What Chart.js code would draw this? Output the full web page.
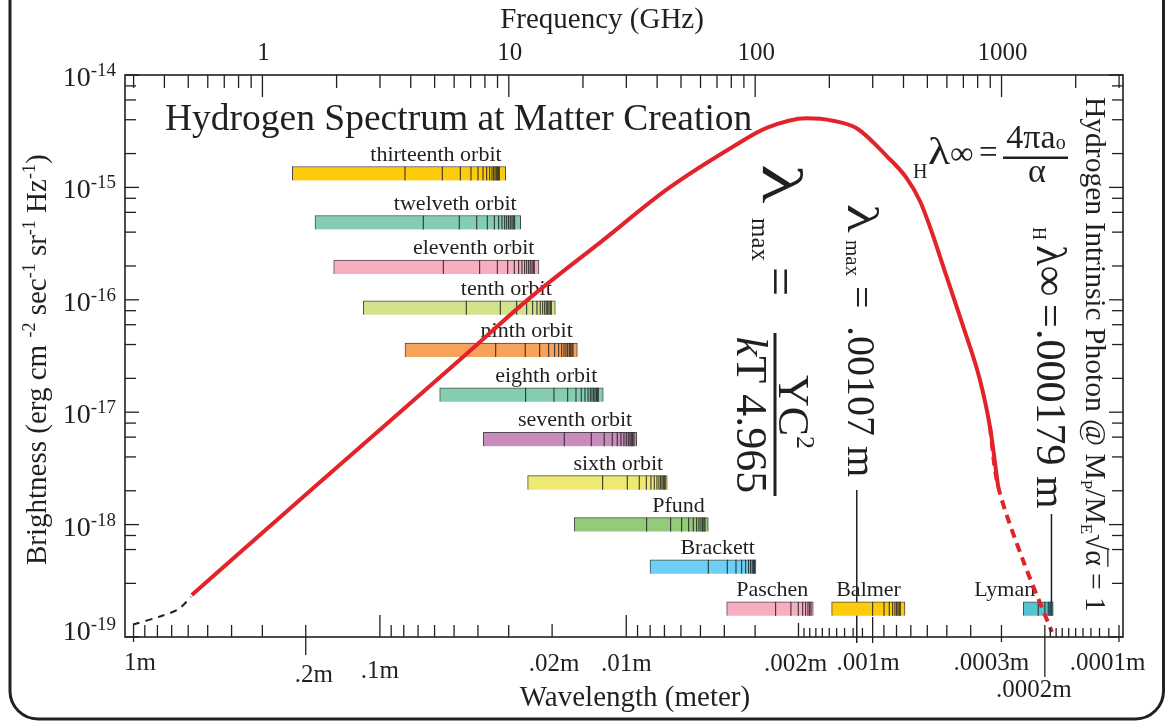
<!DOCTYPE html>
<html><head><meta charset="utf-8">
<script src="https://cdn.jsdelivr.net/npm/chart.js@4.4.1/dist/chart.umd.min.js"></script>
<style>html,body{margin:0;padding:0;background:#fff;overflow:hidden}canvas{display:block}</style>
</head><body>
<canvas id="c" width="1167" height="721"></canvas>
<script>
// ---------------- DATA ----------------
// Planck curve (solid red): wavelength (m) and brightness
const planckWavelength = [0.580, 0.1805, 0.0460, 0.0246, 0.01256, 0.00671, 0.00369, 0.002692, 0.001853, 0.001449, 0.001161, 0.000877, 0.0007278, 0.0006427, 0.0005854, 0.0005008, 0.0004288, 0.0003668, 0.0003342, 0.0003093];
const planckBrightness = [2.36e-19, 2.25e-18, 3.10e-17, 1.04e-16, 3.33e-16, 9.88e-16, 2.30e-15, 3.38e-15, 4.12e-15, 3.92e-15, 3.36e-15, 1.90e-15, 1.21e-15, 7.57e-16, 4.47e-16, 1.605e-16, 5.76e-17, 1.934e-17, 7.43e-18, 2.17e-18];
// Dashed red continuation (short wavelength tail)
const tailWavelength = [0.0003342, 0.0003093, 0.0002455, 0.0001872];
const tailBrightness = [7.43e-18, 2.17e-18, 4.84e-19, 1.108e-19];
// Dashed black continuation (long wavelength start)
const headWavelength = [1.005, 0.781, 0.660, 0.584];
const headBrightness = [1.29e-19, 1.522e-19, 1.757e-19, 2.27e-19];

// Hydrogen series bars
const seriesNames = ['thirteenth orbit','twelveth orbit','eleventh orbit','tenth orbit','ninth orbit','eighth orbit','seventh orbit','sixth orbit','Pfund','Brackett','Paschen','Balmer','Lyman'];
const seriesStart = [0.2267, 0.1834, 0.1540, 0.1168, 0.07909, 0.05719, 0.03805, 0.02514, 0.01626, 0.008013, 0.003912, 0.001467, 0.0002447];
const seriesEnd   = [0.03087, 0.02683, 0.02261, 0.01941, 0.01580, 0.01240, 0.009073, 0.006820, 0.004647, 0.002976, 0.001742, 0.0007394, 0.0001849];
const seriesRowBrightness = [1.329e-15, 4.87e-16, 1.957e-16, 8.49e-17, 3.576e-17, 1.428e-17, 5.74e-18, 2.36e-18, 1.0e-18, 4.22e-19, 1.78e-19, 1.78e-19, 1.78e-19];
const seriesLines = [
  [0.0791,0.05581,0.04717,0.04269,0.03997,0.03815,0.03686,0.03584,0.03508,0.03453,0.03411,0.03370,0.03338,0.03307,0.03276],
  [0.06666,0.04762,0.04046,0.03665,0.03433,0.03295,0.03195,0.03116,0.03058,0.03002,0.02957,0.02910,0.02875,0.02837],
  [0.05529,0.03936,0.03338,0.03030,0.02848,0.02734,0.02651,0.02585,0.02537,0.02490,0.02453,0.02414,0.02385,0.02363],
  [0.04460,0.03246,0.02785,0.02537,0.02398,0.02304,0.02234,0.02184,0.02144,0.02112,0.02084,0.02059,0.02034,0.02015],
  [0.03388,0.02571,0.02246,0.02065,0.01953,0.01881,0.01829,0.01790,0.01757,0.01729,0.01703,0.01681,0.01661,0.01645],
  [0.02561,0.01966,0.01729,0.01600,0.01523,0.01471,0.01430,0.01400,0.01378,0.01356,0.01340,0.01323,0.01311,0.01299],
  [0.01785,0.01387,0.01229,0.01140,0.01088,0.01051,0.01022,0.01000,0.009815,0.009661,0.009544,0.009419,0.009306],
  [0.01247,0.009906,0.008857,0.008294,0.007940,0.007699,0.007506,0.007367,0.007251,0.007163,0.007077,0.007012,0.006946],
  [0.008265,0.006604,0.005959,0.005580,0.005346,0.005179,0.005069,0.004975,0.004896,0.004838,0.004792],
  [0.004647,0.003890,0.003587,0.003401,0.003276,0.003186,0.003127,0.003081,0.003041,0.003013],
  [0.002476,0.002146,0.002004,0.001923,0.001870,0.001830,0.001801,0.001779],
  [0.001000,0.0008995,0.0008561,0.0008293,0.0008118,0.0007990,0.0007893,0.0007798,0.0007726],
  [0.0002128,0.0001999,0.0001938,0.0001908,0.0001890,0.0001873]
];

// Axis ticks
const wavelengthTickValues = [1, 0.2, 0.1, 0.02, 0.01, 0.002, 0.001, 0.0003, 0.0002, 0.0001];
const wavelengthTickLabels = ['1m', '.2m', '.1m', '.02m', '.01m', '.002m', '.001m', '.0003m', '.0002m', '.0001m'];
const wavelengthMinorTicks = [0.9,0.8,0.7,0.6,0.5,0.4,0.3,0.09,0.08,0.07,0.06,0.05,0.04,0.03,0.009,0.008,0.007,0.006,0.005,0.004,0.003,0.0009,0.0008,0.0007,0.0006,0.0005,0.0004];
const wavelengthFineTicks = [0.0019,0.0018,0.0017,0.0016,0.0015,0.0014,0.0013,0.0012,0.0011,0.00019,0.00018,0.00017,0.00016,0.00015,0.00014,0.00013,0.00012,0.00011];
const frequencyTickValues = [1, 10, 100, 1000];
const frequencyTickLabels = ['1', '10', '100', '1000'];
const frequencyMinorTicks = [0.3,0.4,0.5,0.6,0.7,0.8,0.9,2,3,4,5,6,7,8,9,20,30,40,50,60,70,80,90,200,300,400,500,600,700,800,900,2000,3000];
const brightnessTickValues = [1e-14, 1e-15, 1e-16, 1e-17, 1e-18, 1e-19];
const brightnessTickExponents = ['-14', '-15', '-16', '-17', '-18', '-19'];

// Annotation wavelengths
const lambdaMaxLine = 0.00116;
const lambdaInfLine = 0.000188;

const LIGHT_GHZ_M = 0.299792458;
const X_MIN = 9.634e-5, X_MAX = 1.083;

// ---------------- STYLE ----------------
const ink = '#231f20';
const RED = '#e3232a';
const seriesColors = ['#fdcb0b','#84cdb0','#f7aec0','#d3e38b','#f7a25a','#84cdb0','#c98bbe','#ede971','#94cb7a','#6dcff6','#f7aec0','#fdcb0b','#53c5d1'];
const labelInset = [4,4,4.5,3.5,4.5,6,4.5,4,3.5,1,5,4,18];
const SERIF = '"Liberation Serif", "Times New Roman", serif';

function setFont(ctx, size, style) { ctx.font = (style ? style + ' ' : '') + size + 'px ' + SERIF; }
function drawRich(ctx, x, y, parts, angle, align) {
  ctx.save(); ctx.translate(x, y); if (angle) ctx.rotate(angle);
  let total = 0;
  parts.forEach(p => { setFont(ctx, p.s, p.f); total += ctx.measureText(p.t).width * (p.sx || 1) + (p.gap || 0); });
  let cx = align === 'center' ? -total / 2 : (align === 'right' ? -total : 0);
  ctx.textAlign = 'left'; ctx.textBaseline = 'alphabetic'; ctx.fillStyle = ink; ctx.strokeStyle = ink;
  parts.forEach(p => {
    setFont(ctx, p.s, p.f);
    const w = ctx.measureText(p.t).width * (p.sx || 1);
    ctx.save(); ctx.translate(cx, p.dy || 0); ctx.scale(p.sx || 1, 1); ctx.fillText(p.t, 0, 0); ctx.restore();
    if (p.over) { ctx.lineWidth = 1.3; ctx.beginPath(); ctx.moveTo(cx - 1, -p.s * 0.74); ctx.lineTo(cx + w + 1, -p.s * 0.74); ctx.stroke(); }
    cx += w + (p.gap || 0);
  });
  ctx.restore();
  return total;
}
function vline(ctx, x, y1, y2) { ctx.beginPath(); ctx.moveTo(x, y1); ctx.lineTo(x, y2); ctx.stroke(); }
function hline(ctx, y, x1, x2) { ctx.beginPath(); ctx.moveTo(x1, y); ctx.lineTo(x2, y); ctx.stroke(); }

const R90 = Math.PI / 2;

const decorPlugin = {
  id: 'decor',
  beforeDraw(chart) {
    const ctx = chart.ctx;
    ctx.save();
    ctx.fillStyle = '#fff'; ctx.fillRect(0, 0, chart.width, chart.height);
    ctx.strokeStyle = ink; ctx.lineWidth = 3;
    const l = 10, r = 1163.5, b = 719, t = -40, rad = 28;
    ctx.beginPath(); ctx.moveTo(l, t); ctx.lineTo(l, b - rad); ctx.arcTo(l, b, l + rad, b, rad);
    ctx.lineTo(r - rad, b); ctx.arcTo(r, b, r, b - rad, rad); ctx.lineTo(r, t); ctx.stroke();
    ctx.restore();
  },
  beforeDatasetsDraw(chart) {
    const ctx = chart.ctx, xs = chart.scales.x, ys = chart.scales.y;
    ctx.save();
    ctx.fillStyle = ink; setFont(ctx, 22); ctx.textAlign = 'right'; ctx.textBaseline = 'alphabetic';
    seriesNames.forEach((n, i) => {
      const xe = xs.getPixelForValue(seriesEnd[i]);
      const yc = ys.getPixelForValue(seriesRowBrightness[i]);
      ctx.fillText(n, xe - labelInset[i], yc - 13);
    });
    ctx.strokeStyle = ink; ctx.lineWidth = 1.5;
    vline(ctx, xs.getPixelForValue(lambdaMaxLine), 490, 643);
    vline(ctx, xs.getPixelForValue(lambdaInfLine), 514, 603);
    ctx.restore();
  },
  afterDatasetsDraw(chart) {
    const ctx = chart.ctx, xs = chart.scales.x, xt = chart.scales.xTop, ys = chart.scales.y;
    const {left, right, top, bottom} = chart.chartArea;
    ctx.save();
    ctx.strokeStyle = ink; ctx.lineWidth = 1.6;
    ctx.strokeRect(left, top, right - left, bottom - top);
    ctx.lineWidth = 1.3;
    wavelengthMinorTicks.forEach(v => vline(ctx, xs.getPixelForValue(v), bottom, bottom - 12));
    wavelengthFineTicks.forEach(v => vline(ctx, xs.getPixelForValue(v), bottom, bottom - 9));
    const wlUp = [12, 12, 22, 13, 22, 14, 20, 12, 12, 12];
    const wlDown = [5, 18, 0, 0, 0, 0, 6, 5, 40, 5];
    const wlDx = [6.5, 8, 0, 2, 0, -3, -4.5, -10, -11, -11.5];
    const wlBase = [670, 682, 678, 671, 671, 671, 670, 670, 697, 670];
    ctx.fillStyle = ink; setFont(ctx, 25); ctx.textAlign = 'center'; ctx.textBaseline = 'alphabetic';
    wavelengthTickValues.forEach((v, i) => {
      const px = xs.getPixelForValue(v);
      vline(ctx, px, bottom + wlDown[i], bottom - wlUp[i]);
      ctx.fillText(wavelengthTickLabels[i], px + wlDx[i], wlBase[i]);
    });
    frequencyMinorTicks.forEach(v => vline(ctx, xt.getPixelForValue(v), top, top + 13));
    frequencyTickValues.forEach((v, i) => {
      const px = xt.getPixelForValue(v);
      vline(ctx, px, top, top + 22);
      ctx.fillText(frequencyTickLabels[i], px + 1, 60);
    });
    ys.ticks.forEach(t => {
      const v = t.value;
      const py = ys.getPixelForValue(v);
      const m = Math.round(v / Math.pow(10, Math.floor(Math.log10(v) + 1e-9)));
      const len = m === 1 ? 14 : 11;
      hline(ctx, py, left, left + len);
      hline(ctx, py, right, right - len);
    });
    brightnessTickValues.forEach((v, i) => {
      const py = ys.getPixelForValue(v);
      const base = i === brightnessTickValues.length - 1 ? py + 3 : py + 11;
      drawRich(ctx, 116, base, [{t: '10', s: 28}, {t: brightnessTickExponents[i], s: 19, dy: -10}], 0, 'right');
    });
    drawRich(ctx, 602, 28, [{t: 'Frequency (GHz)', s: 29}], 0, 'center');
    drawRich(ctx, 635, 706, [{t: 'Wavelength (meter)', s: 29}], 0, 'center');
    drawRich(ctx, 46, 565, [
      {t: 'Brightness (erg cm ', s: 29}, {t: '-2', s: 18, dy: -11},
      {t: ' sec', s: 29}, {t: '-1', s: 18, dy: -11},
      {t: ' sr', s: 29}, {t: '-1', s: 18, dy: -11},
      {t: ' Hz', s: 29}, {t: '-1', s: 18, dy: -11},
      {t: ')', s: 29}], -R90, 'left');
    drawRich(ctx, 165, 130, [{t: 'Hydrogen Spectrum at Matter Creation', s: 37.5}], 0, 'left');

    // Big Wien formula (rotated)
    drawRich(ctx, 763, 164, [{t: 'λ', s: 56, sx: 1.45}], R90);
    drawRich(ctx, 752, 218, [{t: 'max', s: 25}], R90);
    drawRich(ctx, 763, 267, [{t: '=', s: 52}], R90);
    ctx.fillStyle = ink; ctx.fillRect(773.5, 333, 3, 163);
    drawRich(ctx, 779, 412, [{t: 'YC', s: 44}, {t: '2', s: 26, dy: -18}], R90, 'center');
    drawRich(ctx, 737, 415, [{t: 'k', s: 44, f: 'italic'}, {t: 'T 4.965', s: 44}], R90, 'center');

    // lambda max value (rotated)
    drawRich(ctx, 848, 204, [{t: 'λ', s: 44, sx: 1.35}], R90);
    drawRich(ctx, 846, 240, [{t: 'max', s: 21}], R90);
    drawRich(ctx, 848, 286, [{t: '=', s: 40}], R90);
    drawRich(ctx, 848, 326, [{t: '.00107 m', s: 40}], R90);

    // H lambda infinity value (rotated)
    drawRich(ctx, 1033, 227, [{t: 'H', s: 18}], R90);
    drawRich(ctx, 1037, 245, [{t: 'λ∞', s: 43}], R90);
    drawRich(ctx, 1037, 304, [{t: '=', s: 42}], R90);
    drawRich(ctx, 1037, 329, [{t: '.000179 m', s: 42}], R90);

    // H lambda infinity formula (horizontal)
    drawRich(ctx, 913, 178, [{t: 'H', s: 20}], 0);
    drawRich(ctx, 928, 164, [{t: 'λ', s: 38, sx: 1.2}, {t: '∞', s: 33}], 0);
    drawRich(ctx, 979, 163, [{t: '=', s: 33}], 0);
    ctx.fillRect(1003, 156.5, 65, 2.5);
    drawRich(ctx, 1036, 148, [{t: '4πa', s: 34}, {t: 'o', s: 20, dy: 1}], 0, 'center');
    drawRich(ctx, 1037, 182, [{t: 'α', s: 34}], 0, 'center');

    // right vertical statement
    drawRich(ctx, 1086, 97, [
      {t: 'Hydrogen Intrinsic Photon @ M', s: 29.5}, {t: 'P', s: 17, dy: 5},
      {t: '/M', s: 29.5}, {t: 'E', s: 17, dy: 5},
      {t: '√', s: 29.5}, {t: 'α', s: 29.5, over: true}, {t: ' = 1', s: 29.5}], R90);
    ctx.restore();
  }
};

const pts = (xa, ya) => xa.map((x, i) => ({x, y: ya[i]}));
const barData = seriesNames.map((n, i) => ({x: [seriesStart[i], seriesEnd[i]], y: seriesRowBrightness[i]}));
const lineData = [];
seriesLines.forEach((arr, i) => arr.forEach(v => lineData.push({x: v, y: seriesRowBrightness[i]})));

new Chart(document.getElementById('c'), {
  type: 'line',
  data: {
    datasets: [
      {type: 'line', label: 'Planck', data: pts(planckWavelength, planckBrightness), borderColor: RED, borderWidth: 4, pointRadius: 0, cubicInterpolationMode: 'monotone', fill: false, order: 0, xAxisID: 'x', yAxisID: 'y'},
      {type: 'line', label: 'tail', data: pts(tailWavelength, tailBrightness), borderColor: RED, borderWidth: 4, borderDash: [9, 6], pointRadius: 0, tension: 0.3, fill: false, order: 1, xAxisID: 'x', yAxisID: 'y'},
      {type: 'line', label: 'head', data: pts(headWavelength, headBrightness), borderColor: ink, borderWidth: 2, borderDash: [7, 6], pointRadius: 0, tension: 0.3, fill: false, order: 1, xAxisID: 'x', yAxisID: 'y'},
      {type: 'scatter', label: 'lines', data: lineData, pointStyle: 'line', pointRotation: 90, pointRadius: 7, pointHoverRadius: 7, pointBorderWidth: 1, pointBorderColor: '#262626', pointBackgroundColor: '#262626', order: 2, xAxisID: 'x', yAxisID: 'y'},
      {type: 'bar', label: 'series', indexAxis: 'y', data: barData, backgroundColor: seriesColors, borderColor: '#4a4a4a', borderWidth: 1, borderSkipped: 'bottom', barThickness: 14, order: 3, xAxisID: 'x', yAxisID: 'y'}
    ]
  },
  options: {
    responsive: false, animation: false, devicePixelRatio: 1, events: [],
    layout: {padding: {left: 125, top: 75, right: 44, bottom: 84}},
    plugins: {legend: {display: false}, tooltip: {enabled: false}},
    scales: {
      x: {type: 'logarithmic', reverse: true, min: X_MIN, max: X_MAX, display: false, offset: false, bounds: 'data'},
      xTop: {type: 'logarithmic', axis: 'x', position: 'top', min: LIGHT_GHZ_M / X_MAX, max: LIGHT_GHZ_M / X_MIN, display: false, offset: false, bounds: 'data'},
      y: {type: 'logarithmic', min: 1e-19, max: 1e-14, display: false, offset: false, bounds: 'ticks'}
    }
  },
  plugins: [decorPlugin]
});
</script>
</body></html>
